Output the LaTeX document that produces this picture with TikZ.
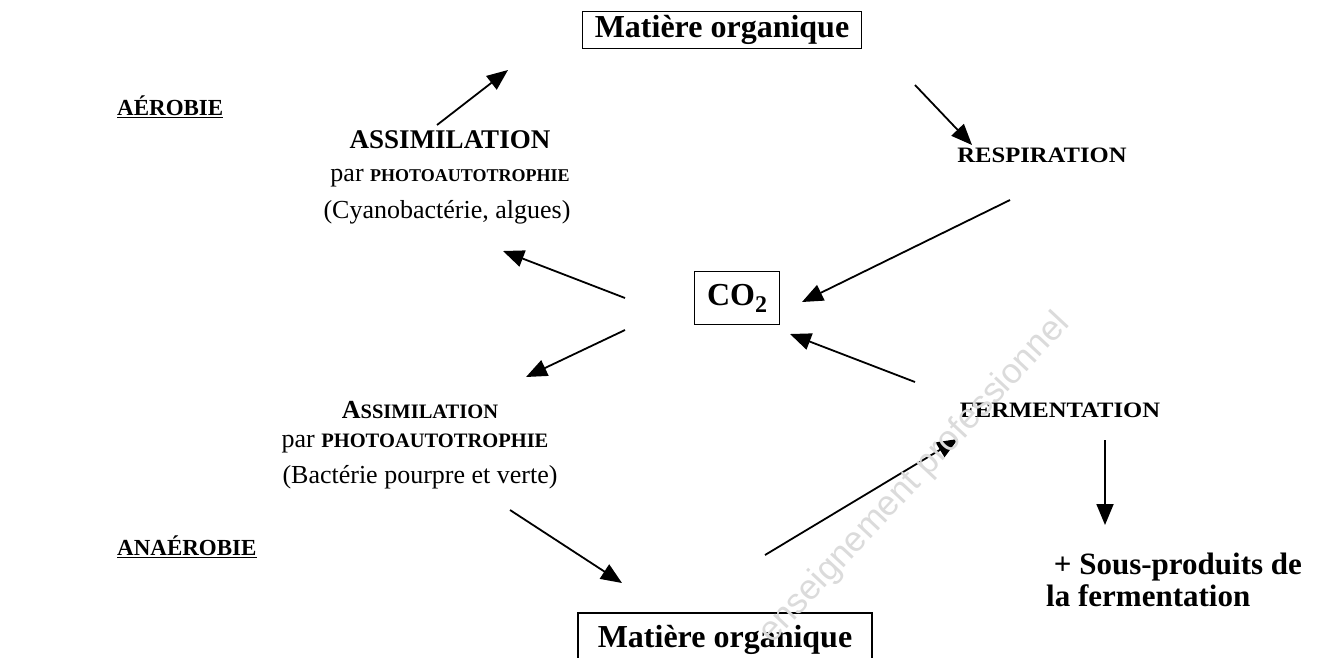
\documentclass[tikz,border=0pt]{standalone}
\usepackage{fontspec}
\setmainfont{Liberation Serif}
\newfontfamily\widefont[FakeStretch=1.12]{Liberation Serif}
\newfontfamily\wmfont{Liberation Sans}
\usetikzlibrary{arrows.meta}
\newcommand\fs[1]{\fontsize{#1}{#1}\selectfont}
\newcommand\smcap[1]{{\fs{18}\bfseries #1}}
\newcommand\smcapb[1]{{\fs{20.5}\bfseries #1}}
\tikzset{
  lbl/.style={inner sep=0pt, font=\fs{27}\bfseries},
  reg/.style={inner sep=0pt, font=\fs{26}},
  wide/.style={inner sep=0pt, font=\widefont\fs{22}\bfseries},
  boxed/.style={draw, line width=1.5pt, inner sep=4pt, font=\fs{32}\bfseries},
  arr/.style={line width=1.8pt, -{Triangle[length=21pt,width=17pt]}},
}
\begin{document}
\begin{tikzpicture}[x=1pt,y=-1pt]
\clip (0,0) rectangle (1332,657);
\fill[white] (0,0) rectangle (1332,657);

% boxes
\node[boxed, minimum width=279pt, minimum height=36pt] (mo1) at (722,30) {Matière organique};
\node[boxed, minimum width=85pt, minimum height=53pt, font=\fs{32}\bfseries] (co2) at (737,298) {CO{\fs{24}\raisebox{-7pt}{2}}};
\node[boxed, minimum width=294pt, minimum height=64pt, anchor=north] (mo2) at (725,612) {};
\node[inner sep=0pt, font=\fs{32}\bfseries] (mo2t) at (725,640) {Matière organique};

% side labels
\node[lbl, font=\fs{23}\bfseries, anchor=west] (aer) at (117,107) {\underline{AÉROBIE}};
\node[lbl, font=\fs{23}\bfseries, anchor=west] (ana) at (117,547) {\underline{ANAÉROBIE}};

% top-left
\node[lbl] (as1) at (450,140) {ASSIMILATION};
\node[reg] (pp1) at (450,178) {par \smcap{PHOTOAUTOTROPHIE}};
\node[reg] (cy1) at (447,212) {(Cyanobactérie, algues)};

% bottom-left
\node[reg, font=\fs{26}\bfseries] (as2) at (420,410) {A\smcapb{SSIMILATION}};
\node[reg] (pp2) at (415,443) {par \smcapb{PHOTOAUTOTROPHIE}};
\node[reg] (bc2) at (420,477) {(Bactérie pourpre et verte)};

% right
\node[wide] (resp) at (1042,155) {RESPIRATION};
\node[wide] (ferm) at (1060,410) {FERMENTATION};
\node[lbl, font=\fs{31}\bfseries, align=left, anchor=north west] (sp) at (1046,553) {\ + Sous-produits de\\[1pt]la fermentation};

% connector ends
\coordinate (a1s) at (437,125);  \coordinate (a1e) at (508,70);
\coordinate (a2s) at (915,85);   \coordinate (a2e) at (972,145);
\coordinate (a3s) at (1010,200); \coordinate (a3e) at (802,302);
\coordinate (a4s) at (625,298);  \coordinate (a4e) at (503,251);
\coordinate (a5s) at (625,330);  \coordinate (a5e) at (526,377);
\coordinate (a6s) at (915,382);  \coordinate (a6e) at (790,334);
\coordinate (a7s) at (1105,440); \coordinate (a7e) at (1105,525);
\coordinate (a8s) at (510,510);  \coordinate (a8e) at (622,583);
\coordinate (a9s) at (765,555);  \coordinate (a9e) at (958,439);

\foreach \i in {1,...,9} \draw[arr] (a\i s) -- (a\i e);

% watermark
\node[font=\wmfont\fs{35}, text=gray!28, rotate=47, anchor=base west, inner sep=0pt] (wm) at (772,645) {enseignement professionnel};
\end{tikzpicture}
\end{document}
